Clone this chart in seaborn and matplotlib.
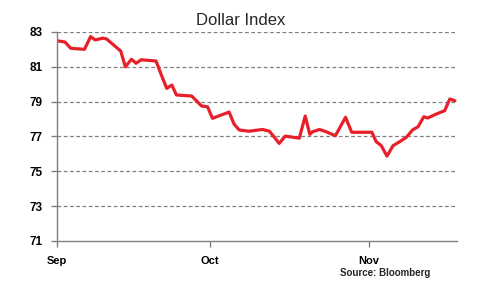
import matplotlib
matplotlib.use("Agg")
import matplotlib.pyplot as plt
import seaborn as sns
import pandas as pd

# Day offsets from Sep 1 and Dollar Index values
days = [0.25, 1.6, 2.7, 5.4, 6.6, 7.5, 9.0, 9.7, 11.3, 12.5, 13.4, 14.6, 15.5, 16.5,
        19.4, 20.7, 21.5, 22.5, 23.4, 26.4, 28.3, 29.5, 30.45, 33.7, 34.7, 35.7,
        37.6, 40.25, 41.6, 42.5, 43.5, 44.7, 47.45, 48.6, 49.5, 50.05, 51.4, 52.7,
        54.5, 56.5, 57.7, 61.65, 62.5, 63.5, 64.6, 65.8, 67.1, 68.4, 69.6, 70.7,
        71.8, 72.6, 74.3, 75.9, 76.9, 77.9]
values = [82.48, 82.42, 82.06, 82.0, 82.73, 82.54, 82.64, 82.6, 82.2, 81.9, 81.0,
          81.43, 81.2, 81.4, 81.33, 80.34, 79.76, 79.95, 79.38, 79.32, 78.75, 78.7,
          78.04, 78.4, 77.7, 77.37, 77.3, 77.4, 77.3, 76.98, 76.6, 77.02, 76.9,
          78.17, 77.12, 77.27, 77.4, 77.27, 77.04, 78.1, 77.24, 77.24, 76.7, 76.47,
          75.87, 76.47, 76.7, 76.95, 77.37, 77.56, 78.13, 78.06, 78.29, 78.48,
          79.15, 79.05]
month_days = [0, 30, 61]
month_labels = ["Sep", "Oct", "Nov"]
y_ticks = [71, 73, 75, 77, 79, 81, 83]

df = pd.DataFrame({"day": days, "value": values})

sns.set_theme(style="white")
plt.rcParams["font.family"] = ["Liberation Sans", "DejaVu Sans"]

fig = plt.figure(figsize=(4.82, 2.90), dpi=100)
ax = fig.add_axes([0.118, 0.169, 0.830, 0.721])

sns.lineplot(data=df, x="day", y="value", ax=ax, color="#E8202A", linewidth=2.3)

ax.set_xlim(0, 78.3)
ax.set_ylim(71, 83)
ax.set_yticks(y_ticks)
ax.set_yticklabels([str(v) for v in y_ticks], fontsize=8.5, fontweight="bold")
ax.set_xticks(month_days)
ax.set_xticklabels(month_labels, fontsize=8, fontweight="bold")
ax.set_xlabel("")
ax.set_ylabel("")

for v in y_ticks[1:]:
    ax.axhline(v, color="#808080", linestyle=(0, (3, 2)), linewidth=0.9, zorder=0)

for s in ["top", "right"]:
    ax.spines[s].set_visible(False)
for s in ["left", "bottom"]:
    ax.spines[s].set_color("#808080")
    ax.spines[s].set_linewidth(1.0)

ax.tick_params(axis="both", which="major", direction="out", length=4, width=1,
               color="#808080", colors="black", left=True, bottom=True)
ax.tick_params(axis="y", pad=6)
ax.tick_params(axis="x", pad=6.5)

fig.text(0.5, 0.93, "Dollar Index", ha="center", va="center", fontsize=12)
fig.text(0.892, 0.058, "Source: Bloomberg", ha="right", va="center", fontsize=7, fontweight="bold")

fig.savefig("out.png", dpi=100)
